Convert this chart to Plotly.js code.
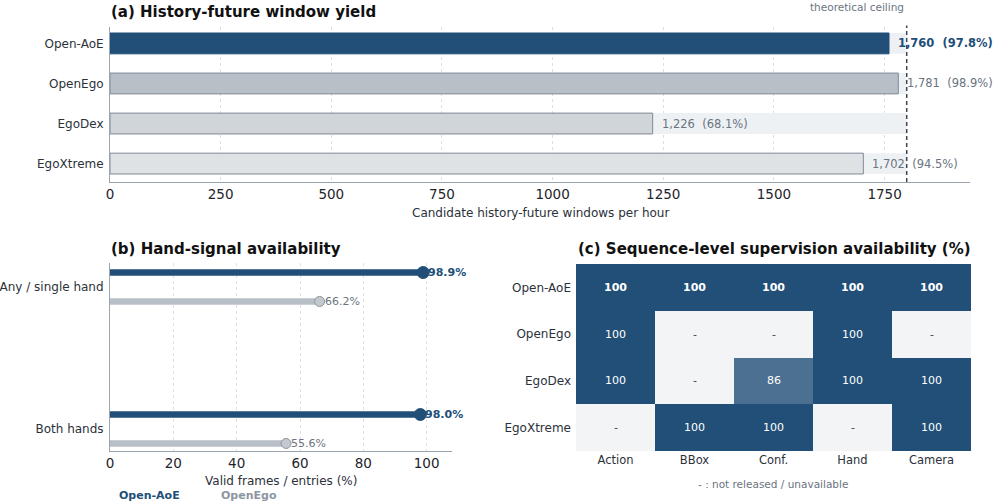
<!DOCTYPE html>
<html>
<head>
<meta charset="utf-8">
<script src="https://cdn.plot.ly/plotly-3.0.1.min.js"></script>
<style>
  html, body { margin: 0; padding: 0; background: #fff; }
  #chart { width: 997px; height: 504px; }
</style>
</head>
<body>
<div id="chart"></div>
<script>
// ---- data ----
const DATASETS = ['Open-AoE', 'OpenEgo', 'EgoDex', 'EgoXtreme'];
const WINDOWS_PER_HOUR = [1760, 1781, 1226, 1702];
const WINDOWS_PCT = [97.8, 98.9, 68.1, 94.5];
const CEILING = 1800;
const YIELD_TICKS = [0, 250, 500, 750, 1000, 1250, 1500, 1750];

const HAND_CATEGORIES = ['Any / single hand', 'Both hands'];
const HAND_SERIES = ['Open-AoE', 'OpenEgo'];
const HAND_OPEN_AOE = [98.9, 98.0];
const HAND_OPENEGO = [66.2, 55.6];
const HAND_TICKS = [0, 20, 40, 60, 80, 100];

const SUP_COLUMNS = ['Action', 'BBox', 'Conf.', 'Hand', 'Camera'];
const SUP_ROWS = DATASETS;
const SUP_VALUES = [
  [100, 100, 100, 100, 100],
  [100, null, null, 100, null],
  [100, null, 86, 100, 100],
  [null, 100, 100, null, 100],
];

// ---- styling ----
const FONT = 'DejaVu Sans, sans-serif';
const DARK = '#214f78';
const GREY = '#b8bfc7';
const BAR_FILL = [DARK, '#b8bfc7', '#d0d5da', '#dfe2e5'];
const BAR_EDGE = [DARK, '#7f8a97', '#7f8a97', '#7f8a97'];
const TRACK = '#eef1f4';
const AXIS_LINE = '#9ca5af';
const GRID = '#dcdfe4';
const TICK_TEXT = '#2b313a';
const MUTED = '#6b7480';

const px = (x) => x / 997;
const py = (y) => 1 - y / 504;

const fmt = (v) => v.toLocaleString('en-US');

const traces = [];

// (a) window yield: ceiling track + measured bar
traces.push({
  type: 'bar', orientation: 'h',
  x: DATASETS.map(() => CEILING), y: DATASETS,
  width: 0.52,
  marker: { color: TRACK, line: { width: 0 } },
  hoverinfo: 'skip', xaxis: 'x', yaxis: 'y',
});
traces.push({
  type: 'bar', orientation: 'h',
  x: WINDOWS_PER_HOUR, y: DATASETS,
  width: 0.52,
  marker: { color: BAR_FILL, line: { color: BAR_EDGE, width: 1 } },
  hovertemplate: '%{y}: %{x}<extra></extra>', xaxis: 'x', yaxis: 'y',
});

// (b) hand-signal availability (lollipops)
const OFFSET = 0.102;
const handPos = (sign) => HAND_CATEGORIES.map((_, i) => i + sign * OFFSET);
traces.push({
  type: 'bar', orientation: 'h', base: 0,
  x: HAND_OPEN_AOE, y: handPos(-1), width: 0.046,
  marker: { color: DARK, line: { width: 0 } },
  hoverinfo: 'skip', xaxis: 'x2', yaxis: 'y2',
});
traces.push({
  type: 'bar', orientation: 'h', base: 0,
  x: HAND_OPENEGO, y: handPos(1), width: 0.046,
  marker: { color: GREY, line: { width: 0 } },
  hoverinfo: 'skip', xaxis: 'x2', yaxis: 'y2',
});
traces.push({
  type: 'scatter', mode: 'markers', name: HAND_SERIES[0],
  x: HAND_OPEN_AOE, y: handPos(-1),
  marker: { size: 12, color: DARK, line: { color: DARK, width: 1 } },
  hovertemplate: '%{x:.1f}%<extra>Open-AoE</extra>', xaxis: 'x2', yaxis: 'y2',
});
traces.push({
  type: 'scatter', mode: 'markers', name: HAND_SERIES[1],
  x: HAND_OPENEGO, y: handPos(1),
  marker: { size: 10, color: '#c3c9cf', line: { color: '#8d96a1', width: 1 } },
  hovertemplate: '%{x:.1f}%<extra>OpenEgo</extra>', xaxis: 'x2', yaxis: 'y2',
});

// (c) supervision heatmap
traces.push({
  type: 'heatmap',
  z: SUP_VALUES, x: SUP_COLUMNS, y: SUP_ROWS,
  zmin: 30, zmax: 100,
  colorscale: [[0, '#f3f4f6'], [1, DARK]],
  showscale: false,
  hoverongaps: false,
  hovertemplate: '%{y} / %{x}: %{z}<extra></extra>',
  xaxis: 'x3', yaxis: 'y3',
});

const annotations = [];

// panel titles
const titleFont = { family: FONT, size: 15, color: '#111111' };
annotations.push({ text: '<b>(a) History-future window yield</b>', xref: 'paper', yref: 'paper',
  x: px(109), y: py(12), xanchor: 'left', yanchor: 'middle', showarrow: false, font: titleFont });
annotations.push({ text: '<b>(b) Hand-signal availability</b>', xref: 'paper', yref: 'paper',
  x: px(109), y: py(249), xanchor: 'left', yanchor: 'middle', showarrow: false, font: titleFont });
annotations.push({ text: '<b>(c) Sequence-level supervision availability (%)</b>', xref: 'paper', yref: 'paper',
  x: px(576), y: py(249), xanchor: 'left', yanchor: 'middle', showarrow: false, font: titleFont });

// axis titles
annotations.push({ text: 'Candidate history-future windows per hour', xref: 'paper', yref: 'paper',
  x: px(540), y: py(213), xanchor: 'center', yanchor: 'middle', showarrow: false,
  font: { family: FONT, size: 12, color: TICK_TEXT } });
annotations.push({ text: 'Valid frames / entries (%)', xref: 'paper', yref: 'paper',
  x: px(281), y: py(481), xanchor: 'center', yanchor: 'middle', showarrow: false,
  font: { family: FONT, size: 12, color: TICK_TEXT } });

// (a) ceiling label and value labels
annotations.push({ text: 'theoretical ceiling', xref: 'x', yref: 'paper',
  x: CEILING, y: py(7), xanchor: 'right', yanchor: 'middle', xshift: -1, showarrow: false,
  font: { family: FONT, size: 10.5, color: MUTED } });
DATASETS.forEach((name, i) => {
  const v = WINDOWS_PER_HOUR[i];
  const label = `${fmt(v)}\u00a0\u00a0(${WINDOWS_PCT[i].toFixed(1)}%)`;
  annotations.push({
    text: i === 0 ? `<b>${label}</b>` : label,
    xref: 'x', yref: 'y', x: v, y: name, xanchor: 'left', yanchor: 'middle',
    xshift: 7, showarrow: false,
    font: { family: FONT, size: 11.5, color: i === 0 ? DARK : MUTED },
  });
});

// (b) value labels
HAND_CATEGORIES.forEach((_, i) => {
  annotations.push({ text: `<b>${HAND_OPEN_AOE[i].toFixed(1)}%</b>`, xref: 'x2', yref: 'y2',
    x: HAND_OPEN_AOE[i], y: i - OFFSET, xanchor: 'left', yanchor: 'middle', xshift: 3, showarrow: false,
    font: { family: FONT, size: 11, color: DARK } });
  annotations.push({ text: `${HAND_OPENEGO[i].toFixed(1)}%`, xref: 'x2', yref: 'y2',
    x: HAND_OPENEGO[i], y: i + OFFSET, xanchor: 'left', yanchor: 'middle', xshift: 3, showarrow: false,
    font: { family: FONT, size: 11, color: MUTED } });
});

// (b) legend text
annotations.push({ text: `<b>${HAND_SERIES[0]}</b>`, xref: 'paper', yref: 'paper',
  x: px(117), y: py(495), xanchor: 'left', yanchor: 'middle', showarrow: false,
  font: { family: FONT, size: 11, color: DARK } });
annotations.push({ text: `<b>${HAND_SERIES[1]}</b>`, xref: 'paper', yref: 'paper',
  x: px(219), y: py(495), xanchor: 'left', yanchor: 'middle', showarrow: false,
  font: { family: FONT, size: 11, color: '#8d96a1' } });

// (c) cell labels
SUP_ROWS.forEach((row, i) => {
  SUP_COLUMNS.forEach((col, j) => {
    const v = SUP_VALUES[i][j];
    annotations.push({
      text: v === null ? '-' : (i === 0 ? `<b>${v}</b>` : String(v)),
      xref: 'x3', yref: 'y3', x: col, y: row, showarrow: false,
      font: { family: FONT, size: 11, color: v === null ? '#3b4350' : '#ffffff' },
    });
  });
});
annotations.push({ text: '- : not released / unavailable', xref: 'paper', yref: 'paper',
  x: px(773), y: py(484), xanchor: 'center', yanchor: 'middle', showarrow: false,
  font: { family: FONT, size: 10.5, color: MUTED } });

const shapes = [
  // ceiling line
  { type: 'line', xref: 'x', yref: 'y domain', x0: CEILING, x1: CEILING, y0: 0, y1: 1.01,
    line: { color: '#3d4654', width: 1.5, dash: '4px,3px' } },
  // background for unreleased cells
  { type: 'rect', xref: 'x3', yref: 'y3', x0: -0.5, x1: 4.5, y0: -0.5, y1: 3.5,
    fillcolor: '#f3f4f6', line: { width: 0 }, layer: 'below' },
];

const axisBase = {
  showline: true, linecolor: AXIS_LINE, linewidth: 1,
  ticks: '', zeroline: false, fixedrange: true,
};

const layout = {
  width: 997, height: 504,
  margin: { l: 0, r: 0, t: 0, b: 0 },
  paper_bgcolor: '#ffffff', plot_bgcolor: 'rgba(0,0,0,0)',
  font: { family: FONT, color: TICK_TEXT },
  showlegend: false,
  barmode: 'overlay',
  xaxis: {
    ...axisBase, domain: [px(110), px(970)], anchor: 'y',
    range: [0, 1943], tickvals: YIELD_TICKS,
    showgrid: true, gridcolor: GRID, griddash: 'dot', gridwidth: 1,
    tickfont: { size: 13.5, color: '#1f242b' },
  },
  yaxis: {
    ...axisBase, domain: [py(182), py(27)], anchor: 'x',
    type: 'category', categoryarray: DATASETS, range: [3.46, -0.41],
    showgrid: false, tickfont: { size: 12, color: TICK_TEXT }, ticklabelstandoff: 3,
  },
  xaxis2: {
    ...axisBase, domain: [px(110), px(452)], anchor: 'y2',
    range: [0, 108], tickvals: HAND_TICKS,
    showgrid: true, gridcolor: GRID, griddash: 'dot', gridwidth: 1,
    tickfont: { size: 13.5, color: '#1f242b' },
  },
  yaxis2: {
    ...axisBase, domain: [py(451), py(263)], anchor: 'x2',
    range: [1.155, -0.169], tickvals: HAND_CATEGORIES.map((_, i) => i), ticktext: HAND_CATEGORIES,
    showgrid: false, tickfont: { size: 12, color: TICK_TEXT }, ticklabelstandoff: 3,
  },
  xaxis3: {
    domain: [px(576), px(971)], anchor: 'y3', showline: false, showgrid: false, zeroline: false,
    ticks: '', fixedrange: true, tickfont: { size: 11.5, color: TICK_TEXT },
  },
  yaxis3: {
    domain: [py(451), py(264)], anchor: 'x3', showline: false, showgrid: false, zeroline: false,
    ticks: '', fixedrange: true, autorange: 'reversed', tickfont: { size: 12, color: TICK_TEXT },
    ticklabelstandoff: 4,
  },
  shapes,
  annotations,
};

Plotly.newPlot('chart', traces, layout, { displayModeBar: false });
</script>
</body>
</html>
